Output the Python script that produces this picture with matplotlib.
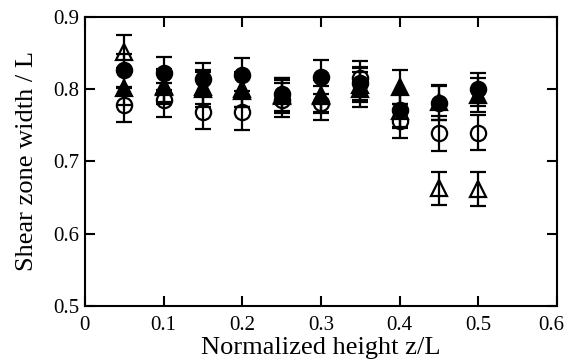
import matplotlib.pyplot as plt
from matplotlib.transforms import ScaledTranslation

plt.rcParams['font.family'] = ['Liberation Serif', 'DejaVu Serif']

# Data
z = [0.05, 0.10, 0.15, 0.20, 0.25, 0.30, 0.35, 0.40, 0.45, 0.50]

filled_circle = [0.826, 0.822, 0.814, 0.820, 0.793, 0.817, 0.808, 0.771, 0.781, 0.800]
open_circle = [0.778, 0.785, 0.769, 0.768, 0.785, 0.781, 0.815, 0.756, 0.739, 0.740]
filled_tri = [0.802, 0.803, 0.800, 0.800, 0.792, 0.792, 0.800, 0.803, 0.782, 0.792]
open_tri = [0.852, 0.805, 0.803, 0.798, 0.790, 0.790, 0.806, 0.770, 0.663, 0.662]

err_filled_circle = [0.023] * 10
err_open_circle = [0.024] * 10
err_filled_tri = [0.024] * 10
err_open_tri = [0.023] * 10

fig = plt.figure(figsize=(5.66, 3.62), dpi=100)
ax = fig.add_axes([0.150, 0.155, 0.834, 0.798])

common = dict(color="black", ecolor="black", elinewidth=1.6, capsize=5.5,
              capthick=1.6, linestyle="none", markeredgewidth=1.6)

ax.errorbar(z, open_tri, yerr=err_open_tri, marker="^", markersize=11.5,
            markerfacecolor="none", **common)
ax.errorbar(z, open_circle, yerr=err_open_circle, marker="o", markersize=11,
            markerfacecolor="none", **common)
ax.errorbar(z, filled_tri, yerr=err_filled_tri, marker="^", markersize=11.5,
            markerfacecolor="black", **common)
ax.errorbar(z, filled_circle, yerr=err_filled_circle, marker="o", markersize=11,
            markerfacecolor="black", **common)

ax.set_xlim(0, 0.6)
ax.set_ylim(0.5, 0.9)
ax.set_xticks([0, 0.1, 0.2, 0.3, 0.4, 0.5, 0.6])
ax.set_xticklabels(["0", "0.1", "0.2", "0.3", "0.4", "0.5", "0.6"])
ax.set_yticks([0.5, 0.6, 0.7, 0.8, 0.9])
ax.set_yticklabels(["0.5", "0.6", "0.7", "0.8", "0.9"])

ax.tick_params(direction="in", length=7, width=1.5, labelsize=15,
               top=True, right=True)
ax.tick_params(axis="x", pad=7.5)
ax.tick_params(axis="y", pad=4)
for s in ax.spines.values():
    s.set_linewidth(1.5)

# keep the last x label inside the figure, as in the reference
last = ax.get_xticklabels()[-1]
last.set_transform(last.get_transform() + ScaledTranslation(-6 / 100, 0, fig.dpi_scale_trans))

ax.set_xlabel("Normalized height z/L", fontsize=19, labelpad=1.5)
ax.set_ylabel("Shear zone width / L", fontsize=19, labelpad=11)

plt.savefig("out.png", dpi=100)
